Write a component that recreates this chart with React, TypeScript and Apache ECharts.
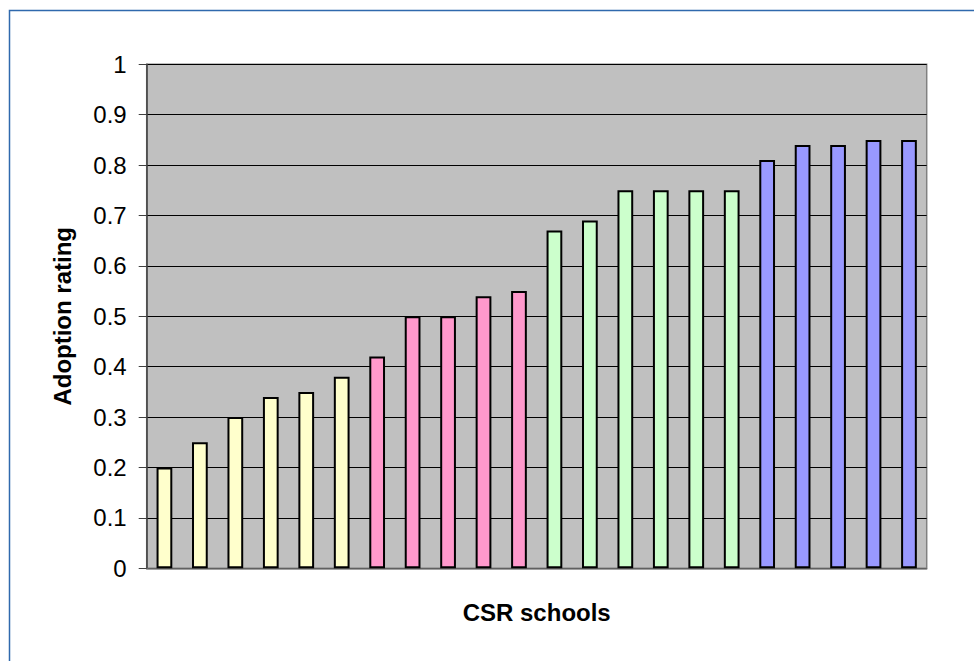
import React, { useEffect, useRef } from "react";
import * as echarts from "echarts";

// Adoption ratings of the CSR schools, grouped into four tiers
const tierLow = [0.2, 0.25, 0.3, 0.34, 0.35, 0.38];
const tierMid = [0.42, 0.5, 0.5, 0.54, 0.55];
const tierHigh = [0.67, 0.69, 0.75, 0.75, 0.75, 0.75];
const tierTop = [0.81, 0.84, 0.84, 0.85, 0.85];
const tierColors = ["#FFFFCC", "#FF99CC", "#CCFFCC", "#9999FF"];
const yTicks = [0, 0.1, 0.2, 0.3, 0.4, 0.5, 0.6, 0.7, 0.8, 0.9, 1];

const FONT = "'Liberation Sans', Arial, sans-serif";

export default function App() {
  const ref = useRef<HTMLDivElement>(null);

  useEffect(() => {
    document.body.style.margin = "0";
    if (!ref.current) return;
    const chart = echarts.init(ref.current, undefined, { renderer: "svg" });

    const tiers = [tierLow, tierMid, tierHigh, tierTop];
    const data: any[] = [];
    tiers.forEach((vals, t) => {
      vals.forEach((v) => {
        data.push({ value: v, itemStyle: { color: tierColors[t] } });
      });
    });
    const categories = data.map((_, i) => `School ${i + 1}`);

    chart.setOption({
      animation: false,
      backgroundColor: "#FFFFFF",
      textStyle: { fontFamily: FONT },
      grid: {
        left: 146.7,
        right: 47.3,
        top: 64.3,
        bottom: 92.7,
        show: true,
        backgroundColor: "#C0C0C0",
        borderColor: "#808080",
        borderWidth: 1.5,
      },
      graphic: [
        {
          type: "rect",
          shape: { x: 9.5, y: 10.5, width: 1200, height: 1000 },
          style: { fill: "none", stroke: "#2F69AD", lineWidth: 1.5 },
          silent: true,
        },
      ],
      xAxis: {
        type: "category",
        data: categories,
        axisLabel: { show: false },
        axisTick: { show: false },
        axisLine: { show: true, lineStyle: { color: "#808080", width: 1.5 } },
        name: "CSR schools",
        nameLocation: "middle",
        nameGap: 32,
        nameTextStyle: { fontSize: 24, fontWeight: "bold", color: "#000", fontFamily: FONT },
      },
      yAxis: {
        type: "value",
        min: yTicks[0],
        max: yTicks[yTicks.length - 1],
        interval: 0.1,
        axisLine: { show: true, lineStyle: { color: "#404040", width: 1.5 } },
        axisTick: { show: true, inside: false, length: 8, lineStyle: { color: "#404040", width: 1 } },
        axisLabel: {
          fontSize: 24,
          color: "#000",
          margin: 20,
          fontFamily: FONT,
          formatter: (v: number) => String(Math.round(v * 10) / 10),
        },
        splitLine: { show: true, lineStyle: { color: "#000", width: 1.2 } },
        name: "Adoption rating",
        nameLocation: "middle",
        nameRotate: 90,
        nameGap: 72,
        nameTextStyle: { fontSize: 24, fontWeight: "bold", color: "#000", fontFamily: FONT },
      },
      series: [
        {
          type: "bar",
          data,
          barWidth: "44.4%",
          itemStyle: { borderColor: "#000", borderWidth: 2 },
        },
      ],
    });

    return () => chart.dispose();
  }, []);

  return <div ref={ref} style={{ width: 974, height: 661 }} />;
}
